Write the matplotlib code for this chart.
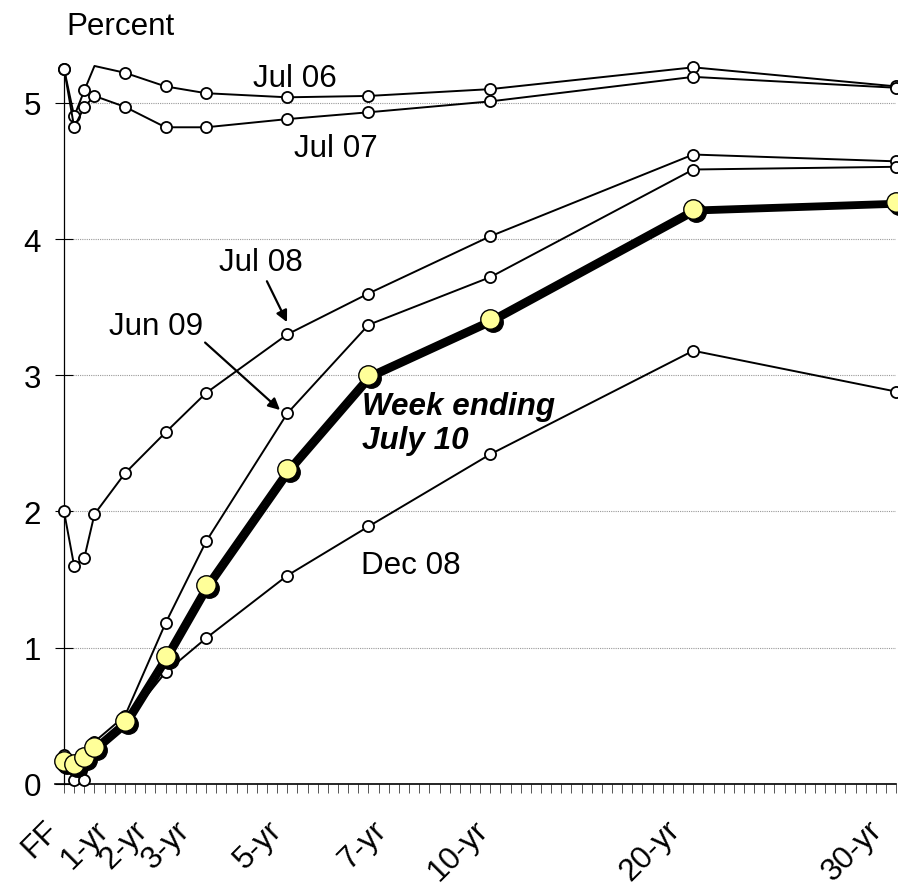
import matplotlib
matplotlib.use("Agg")
import matplotlib.pyplot as plt
import matplotlib.transforms as mtransforms

plt.rcParams['font.family'] = ['Liberation Sans', 'DejaVu Sans']

# ---- data ----
maturities = ["FF", "1-mo", "3-mo", "6-mo", "1-yr", "2-yr", "3-yr",
              "5-yr", "7-yr", "10-yr", "20-yr", "30-yr"]
# category positions on the (non-uniform) maturity axis
positions = [0, 1, 2, 3, 6, 10, 14, 22, 30, 42, 62, 82]
tick_labels = ["FF", "1-yr", "2-yr", "3-yr", "5-yr", "7-yr", "10-yr", "20-yr", "30-yr"]
tick_label_x = [-1.0, 4.0, 7.8, 12.0, 21.0, 31.3, 41.3, 60.2, 80.2]

jul06 = [5.25, 4.90, 5.09, 5.27, 5.22, 5.12, 5.07, 5.04, 5.05, 5.10, 5.26, 5.12]
jul07 = [5.25, 4.82, 4.97, 5.05, 4.97, 4.82, 4.82, 4.88, 4.93, 5.01, 5.19, 5.11]
jul08 = [2.00, 1.60, 1.66, 1.98, 2.28, 2.58, 2.87, 3.30, 3.60, 4.02, 4.62, 4.57]
dec08 = [0.16, 0.03, 0.03, 0.26, 0.45, 0.82, 1.07, 1.53, 1.89, 2.42, 3.18, 2.88]
jun09 = [0.21, 0.15, 0.19, 0.31, 0.50, 1.18, 1.78, 2.72, 3.37, 3.72, 4.51, 4.53]
week = [0.17, 0.15, 0.20, 0.27, 0.46, 0.94, 1.46, 2.31, 3.00, 3.41, 4.22, 4.27]

FS = 22.6

fig = plt.figure(figsize=(8.98, 8.87), dpi=100)
ax = fig.add_axes([0.0713, 0.115, 0.9267, 0.8095])

ax.set_ylim(0, 5.27)
ax.set_xlim(0, 82)
ax.set_yticks([0, 1, 2, 3, 4, 5])
ax.yaxis.grid(True, color='#999999', linestyle=(0, (1, 1)), linewidth=0.8)
ax.set_axisbelow(True)

thin = dict(color='black', linewidth=1.4, marker='o', markersize=8,
            markerfacecolor='white', markeredgecolor='black',
            markeredgewidth=1.3, clip_on=False)

ax.plot(positions, jul06, markevery=[0, 1, 2, 4, 5, 6, 7, 8, 9, 10, 11], zorder=3, **thin)
ax.plot(positions, jul07, zorder=3, **thin)
ax.plot(positions, jul08, zorder=3, **thin)
ax.plot(positions, dec08, zorder=3, **thin)
ax.plot(positions, jun09, zorder=3, **thin)

# shadow of the current-week curve
shadow_tr = mtransforms.offset_copy(ax.transData, fig=fig, x=3, y=-3, units='dots')
ax.plot(positions, week, color='black', linewidth=3.4, marker='o', markersize=14,
        markerfacecolor='black', markeredgecolor='black', markeredgewidth=1.0,
        clip_on=False, zorder=4, transform=shadow_tr)
ax.plot(positions, week, color='black', linewidth=3.4, marker='o', markersize=14,
        markerfacecolor='#FFFF99', markeredgecolor='black', markeredgewidth=1.0,
        clip_on=False, zorder=5)

# spines
for s in ['top', 'right']:
    ax.spines[s].set_visible(False)
ax.spines['left'].set_linewidth(0.9)
ax.spines['bottom'].set_linewidth(1.2)
ax.spines['bottom'].set_bounds(-0.9, 82)

# ticks
ax.tick_params(axis='y', direction='inout', length=13, width=0.8, labelsize=FS, pad=10)
ax.set_xticks(range(0, 83))
ax.set_xticklabels([])
ax.tick_params(axis='x', which='both', direction='out', length=6.5, width=0.7,
               color='#555555')

# rotated category labels
lab_tr = mtransforms.offset_copy(ax.get_xaxis_transform(), fig=fig, x=0, y=-41, units='dots')
for xl, lab in zip(tick_label_x, tick_labels):
    ax.text(xl, 0, lab, transform=lab_tr, rotation=45, rotation_mode='anchor',
            ha='right', va='center', fontsize=FS, clip_on=False)

# annotations
ax.text(5.6, 5.56, "Percent", fontsize=FS, ha='center', va='center', clip_on=False)
ax.text(22.7, 5.18, "Jul 06", fontsize=FS, ha='center', va='center')
ax.text(26.8, 4.67, "Jul 07", fontsize=FS, ha='center', va='center')
ax.text(34.2, 1.61, "Dec 08", fontsize=FS, ha='center', va='center')
ax.text(29.4, 2.65, "Week ending\nJuly 10", fontsize=FS, fontweight='bold',
        fontstyle='italic', ha='left', va='center', linespacing=1.15)

ax.text(19.4, 3.83, "Jul 08", fontsize=FS, ha='center', va='center')
ax.text(9.06, 3.36, "Jun 09", fontsize=FS, ha='center', va='center')
arrow = dict(arrowstyle='-|>', color='black', lw=1.6, mutation_scale=17,
             shrinkA=0, shrinkB=0)
ax.annotate("", xy=(21.97, 3.39), xytext=(19.99, 3.69), arrowprops=arrow)
ax.annotate("", xy=(21.28, 2.745), xytext=(13.9, 3.24), arrowprops=arrow)

fig.savefig("out.png", dpi=100)
